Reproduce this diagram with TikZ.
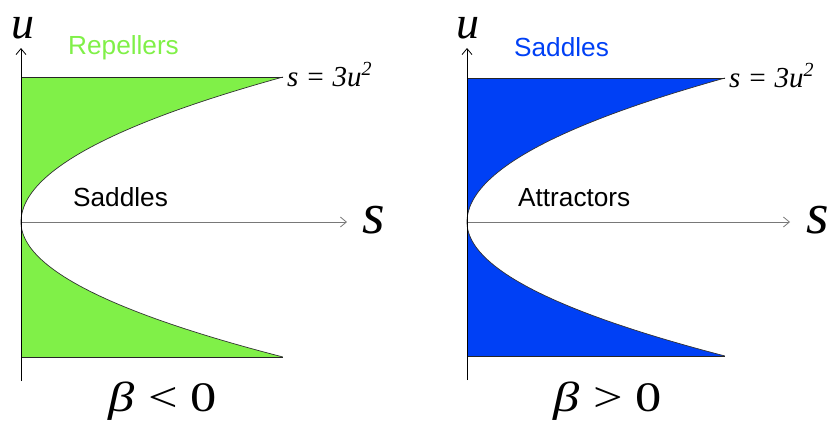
\documentclass[tikz,border=0pt]{standalone}
\usepackage{fontspec}
\setmainfont{Liberation Serif}
\newfontfamily\sansf{Liberation Sans}
\usetikzlibrary{arrows.meta}
\definecolor{repgreen}{RGB}{128,240,72}
\definecolor{sadblue}{RGB}{0,64,245}
\definecolor{axisgray}{RGB}{120,120,120}
\newcommand{\eqtext}{\itshape s = 3u\raisebox{11pt}{\fontsize{20}{20}\selectfont 2}}
\begin{document}
\begin{tikzpicture}[x=1pt,y=-1pt,
  region/.style={font=\sansf\fontsize{26.2}{27}\selectfont,inner sep=0pt,anchor=base west},
  bigvar/.style={font=\fontsize{46}{46}\selectfont\itshape,inner sep=0pt,anchor=base west},
  svar/.style={font=\fontsize{58}{58}\selectfont\itshape,inner sep=0pt,anchor=base west},
  eqn/.style={font=\fontsize{29}{29}\selectfont,inner sep=0pt,anchor=base west},
  cond/.style={font=\fontsize{42}{42}\selectfont,inner sep=0pt,anchor=base},
  uaxis/.style={draw=black,line width=0.8pt,-{Straight Barb[length=6pt,width=10pt]}},
  saxis/.style={draw=axisgray,line width=0.8pt,-{Straight Barb[length=6pt,width=10pt]}},
  curve/.style={draw=black!80,line width=0.7pt},
  edge/.style={draw=black!85,line width=0.9pt}
]
\useasboundingbox (0,0) rectangle (828,421);

% ---------- left panel ----------
\coordinate (Lo) at (21,222);
\coordinate (Lbot) at (21,381);
\coordinate (Ltop) at (21,48);
\coordinate (Lsend) at (347,222);
\coordinate (LTL) at (21,77);
\coordinate (LTR) at (283,77);
\coordinate (LBL) at (21,357);
\coordinate (LBR) at (283,357);

\fill[repgreen] (LTL) -- (LTR)
  -- plot[domain=1:0,samples=50] ({21+262*\x*\x},{222-145*\x}) -- cycle;
\fill[repgreen] (LBL) -- (LBR)
  -- plot[domain=1:0,samples=50] ({21+262*\x*\x},{222+135*\x}) -- cycle;
\draw[curve] plot[domain=1:0,samples=50] ({21+262*\x*\x},{222-145*\x})
  -- plot[domain=0:1,samples=50] ({21+262*\x*\x},{222+135*\x});
\draw[edge] (LTL) -- (LTR);
\draw[edge] (LBL) -- (LBR);
\draw[saxis] (Lo) -- (Lsend);
\draw[uaxis] (Lbot) -- (Ltop);

\node[bigvar] (Lu) at (11,38) {u};
\node[region,text=repgreen] (Lrep) at (68,54) {Repellers};
\node[eqn] (Leq) at (287,86) {\eqtext};
\node[region] (Lsad) at (73,206) {Saddles};
\node[svar] (Ls) at (362,233) {s};
\node[cond] (Lcond) at (163,411) {\scalebox{1.25}[1]{\textit{β} < 0}};

% ---------- right panel ----------
\coordinate (Ro) at (467,222);
\coordinate (Rbot) at (467,380);
\coordinate (Rtop) at (467,48);
\coordinate (Rsend) at (790,222);
\coordinate (RTL) at (467,78);
\coordinate (RTR) at (725,78);
\coordinate (RBL) at (467,356);
\coordinate (RBR) at (725,356);

\fill[sadblue] (RTL) -- (RTR)
  -- plot[domain=1:0,samples=50] ({467+258*\x*\x},{222-144*\x}) -- cycle;
\fill[sadblue] (RBL) -- (RBR)
  -- plot[domain=1:0,samples=50] ({467+258*\x*\x},{222+134*\x}) -- cycle;
\draw[curve] plot[domain=1:0,samples=50] ({467+258*\x*\x},{222-144*\x})
  -- plot[domain=0:1,samples=50] ({467+258*\x*\x},{222+134*\x});
\draw[edge] (RTL) -- (RTR);
\draw[edge] (RBL) -- (RBR);
\draw[saxis] (Ro) -- (Rsend);
\draw[uaxis] (Rbot) -- (Rtop);

\node[bigvar] (Ru) at (456,38) {u};
\node[region,text=sadblue] (Rsad) at (514,56) {Saddles};
\node[eqn] (Req) at (729,87) {\eqtext};
\node[region] (Ratt) at (518,206) {Attractors};
\node[svar] (Rs) at (806,233) {s};
\node[cond] (Rcond) at (608,411) {\scalebox{1.25}[1]{\textit{β} > 0}};
\end{tikzpicture}
\end{document}
